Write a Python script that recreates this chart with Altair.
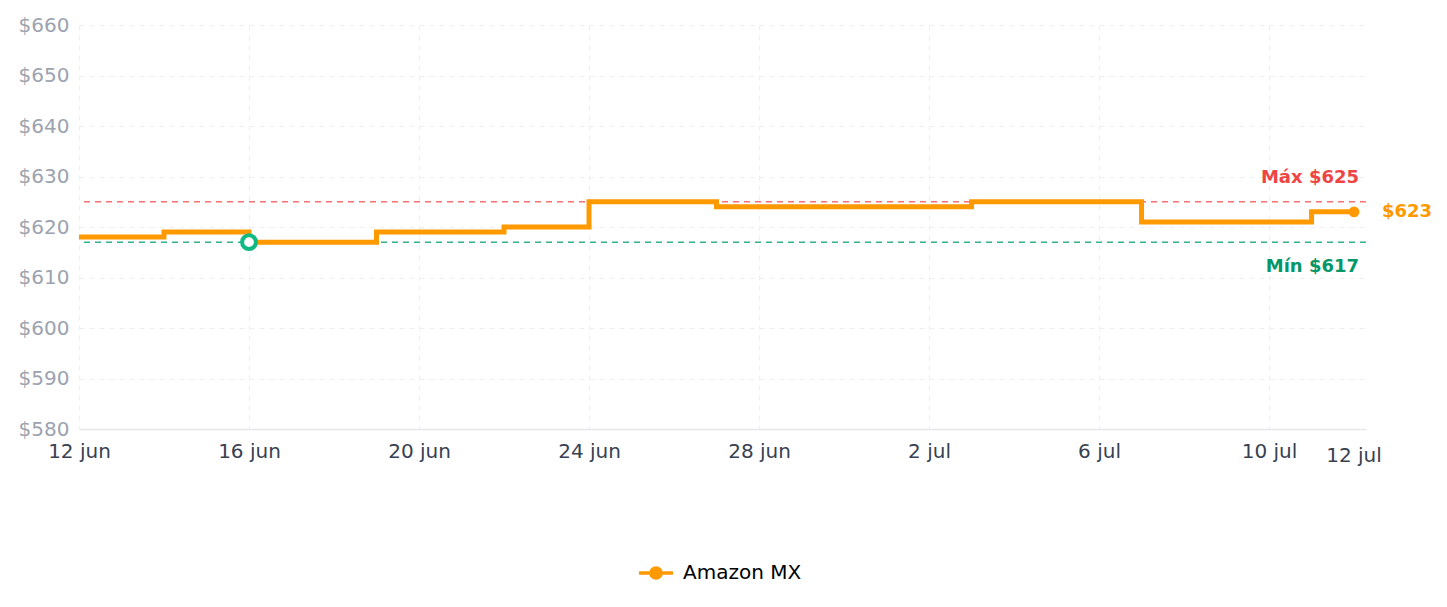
import altair as alt
import pandas as pd

# ---- data ----
dates = ["2025-06-12", "2025-06-14", "2025-06-16", "2025-06-19", "2025-06-22",
         "2025-06-24", "2025-06-27", "2025-07-03", "2025-07-07", "2025-07-11",
         "2025-07-12"]
prices = [618, 619, 617, 619, 620, 625, 624, 625, 621, 623, 623]
series_name = "Amazon MX"
max_price = 625
min_price = 617
min_date = "2025-06-16"
last_date = "2025-07-12"
last_price = 623
y_ticks = [580, 590, 600, 610, 620, 630, 640, 650, 660]
month_names = ["ene", "feb", "mar", "abr", "may", "jun", "jul", "ago", "sep", "oct", "nov", "dic"]

df = pd.DataFrame({"date": dates, "price": prices, "series": [series_name] * len(dates)})
max_df = pd.DataFrame({"price": [max_price], "label": [f"Máx ${max_price}"]})
min_ref_df = pd.DataFrame({"price": [min_price], "label": [f"Mín ${min_price}"]})
min_df = pd.DataFrame({"date": [min_date], "price": [min_price]})
last_df = pd.DataFrame({"date": [last_date], "price": [last_price], "label": [f"${last_price}"]})

x_end = alt.DateTime(year=2025, month=7, date=12, hours=6, minutes=45, utc=True)
x_scale = alt.Scale(type="utc",
                    domain=[alt.DateTime(year=2025, month=6, date=12, utc=True), x_end])
y_scale = alt.Scale(domain=[580, 660], nice=False, zero=False)

tick_dates = [alt.DateTime(year=2025, month=m, date=d, utc=True)
              for m, d in [(6, 12), (6, 16), (6, 20), (6, 24), (6, 28), (7, 2), (7, 6), (7, 10)]]
months_js = "[" + ",".join(f"'{m}'" for m in month_names) + "]"

x_axis = alt.Axis(values=tick_dates, title=None, ticks=False, domain=True,
                  domainColor="#e5e7eb", domainWidth=1.5, labelFlush=False,
                  grid=True, gridColor="#efefef", gridDash=[5, 5], gridWidth=1,
                  labelExpr=f"utcFormat(datum.value, '%-d') + ' ' + {months_js}[utcmonth(datum.value)]",
                  labelFontSize=20, labelColor="#374151", labelPadding=12, labelFont="DejaVu Sans")
y_axis = alt.Axis(values=y_ticks, title=None, ticks=False, domain=False,
                  grid=True, gridColor="#efefef", gridDash=[5, 5], gridWidth=1,
                  labelExpr="'$' + datum.value", labelFontSize=20, labelColor="#9ca3af",
                  labelPadding=10, labelFont="DejaVu Sans")

X = alt.X("date:T", scale=x_scale, axis=x_axis)
Y = alt.Y("price:Q", scale=y_scale, axis=y_axis)

legend_symbol = "M-1,0L1,0M-0.3,0A0.3,0.3 0 1,1 0.3,0A0.3,0.3 0 1,1 -0.3,0Z"

line = alt.Chart(df).mark_line(interpolate="step-after", strokeWidth=5).encode(
    x=X, y=Y,
    color=alt.Color("series:N", scale=alt.Scale(range=["#ff9900"]),
                    legend=alt.Legend(title=None, orient="none", legendX=558, legendY=529,
                                      symbolType=legend_symbol, symbolSize=1156,
                                      symbolStrokeWidth=3.5, symbolFillColor="#ff9900",
                                      symbolStrokeColor="#ff9900",
                                      labelFontSize=20, labelColor="#000000",
                                      labelFont="DejaVu Sans", labelOffset=8))
)

max_rule = alt.Chart(max_df).mark_rule(strokeDash=[6, 5], strokeWidth=1.5, color="#f87171").encode(
    y=alt.Y("price:Q", scale=y_scale, axis=y_axis))
min_rule = alt.Chart(min_ref_df).mark_rule(strokeDash=[6, 5], strokeWidth=1.5, color="#34b08a").encode(
    y=alt.Y("price:Q", scale=y_scale, axis=y_axis))

max_label = alt.Chart(max_df).mark_text(
    align="right", baseline="middle", dx=-7, dy=-24, fontSize=18, fontWeight="bold",
    color="#ef4444", font="DejaVu Sans").encode(
    x=alt.datum(x_end, type="temporal"),
    y=alt.Y("price:Q", scale=y_scale), text="label:N")

min_label = alt.Chart(min_ref_df).mark_text(
    align="right", baseline="middle", dx=-7, dy=25, fontSize=18, fontWeight="bold",
    color="#059669", font="DejaVu Sans").encode(
    x=alt.datum(x_end, type="temporal"),
    y=alt.Y("price:Q", scale=y_scale), text="label:N")

min_marker = alt.Chart(min_df).mark_point(filled=False, fill="white", fillOpacity=1, stroke="#10b981",
                                          strokeWidth=4, size=190, opacity=1).encode(x=X, y=Y)

last_point = alt.Chart(last_df).mark_circle(size=115, color="#ff9900", opacity=1).encode(x=X, y=Y)
last_label = alt.Chart(last_df).mark_text(align="left", baseline="middle", dx=28, fontSize=18,
                                          fontWeight="bold", color="#ff9900",
                                          font="DejaVu Sans").encode(x=X, y=Y, text="label:N")

end_tick = alt.Chart(last_df).mark_text(align="center", baseline="middle", dy=27, fontSize=20,
                                        color="#374151", font="DejaVu Sans").encode(
    x=X, y=alt.datum(580), text=alt.value("12 jul"))

chart = alt.layer(max_rule, min_rule, line, max_label, min_label, min_marker, last_point,
                  last_label, end_tick).properties(
    width=1287, height=404,
    autosize=alt.AutoSizeParams(type="none"),
    padding={"left": 79, "top": 25, "right": 81, "bottom": 178},
    background="white",
).configure_view(stroke=None).configure_axis(labelFont="DejaVu Sans")

chart.save("out.html", embed_options={"renderer": "svg", "actions": False})
